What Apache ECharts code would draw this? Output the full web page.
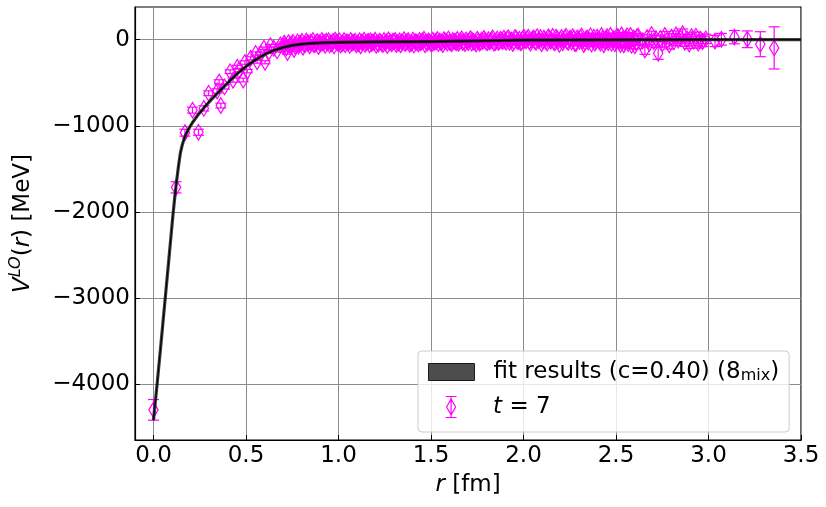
<!DOCTYPE html>
<html>
<head>
<meta charset="utf-8">
<script src="https://cdn.jsdelivr.net/npm/echarts@6/dist/echarts.min.js"></script>
<style>
  html, body { margin: 0; padding: 0; background: #ffffff; }
  #chart { width: 826px; height: 507px; }
</style>
</head>
<body>
<div id="chart"></div>
<script>
// ---- data ----
const xTicks = [0, 0.5, 1, 1.5, 2, 2.5, 3, 3.5];
const yTicks = [-4000, -3000, -2000, -1000, 0];

// lattice points, t = 7 : r [fm], V [MeV], error [MeV]
const r7 = [
  0.000,0.122,0.170,0.211,0.243,0.272,0.298,0.344,0.355,0.364,0.384,0.414,0.430,0.453,0.462,0.485,0.494,0.507,0.525,0.552,0.560,0.579,0.597,0.603,0.624,0.632,0.650,0.668,0.686,
  0.700,0.712,0.724,0.736,0.748,0.760,0.772,0.784,0.796,0.808,
  0.820,0.832,0.844,0.856,0.868,0.880,0.892,0.904,0.916,0.928,
  0.940,0.952,0.964,0.976,0.988,1.000,1.012,1.024,1.036,1.048,
  1.060,1.072,1.084,1.096,1.108,1.120,1.132,1.144,1.156,1.168,
  1.180,1.192,1.204,1.216,1.228,1.240,1.252,1.264,1.276,1.288,
  1.300,1.312,1.324,1.336,1.348,1.360,1.372,1.384,1.396,1.408,
  1.420,1.432,1.444,1.456,1.468,1.480,1.492,1.504,1.516,1.528,
  1.540,1.552,1.564,1.576,1.588,1.600,1.612,1.624,1.636,1.648,
  1.660,1.672,1.684,1.696,1.708,1.720,1.732,1.744,1.756,1.768,
  1.780,1.792,1.804,1.816,1.828,1.840,1.852,1.864,1.876,1.888,
  1.900,1.912,1.924,1.936,1.948,1.960,1.972,1.984,1.996,2.008,
  2.020,2.032,2.044,2.056,2.068,2.080,2.092,2.104,2.116,2.128,
  2.140,2.152,2.164,2.176,2.188,2.200,2.212,2.224,2.236,2.248,
  2.260,2.272,2.284,2.296,2.308,2.320,2.332,2.344,2.356,2.368,
  2.380,2.392,2.404,2.416,2.428,2.440,2.452,2.464,2.476,2.488,
  2.500,2.512,2.524,2.536,2.548,2.560,2.572,2.584,2.596,2.608,
  2.620,2.632,2.644,2.656,2.668,2.680,2.692,2.704,2.716,2.728,
  2.740,2.752,2.764,2.776,2.788,2.800,2.812,2.824,2.836,2.848,
  2.860,2.872,2.884,2.896,2.908,2.920,2.932,2.944,2.956,2.968,
  2.985,3.035,3.070,3.140,3.210,3.280,3.355
];
const v7 = [
  -4300,-1715,-1080,-818,-1075,-798,-622,-595,-490,-765,-548,-372,-470,-320,-352,-468,-265,-365,-216,-160,-255,-160,-100,-262,-140,-70,-100,-130,-62,
  -72,-60,-150,-66,-50,-115,-58,-74,-44,-88,
  -52,-38,-70,-45,-60,-30,-78,-48,-40,-64,
  -35,-58,-46,-72,-28,-50,-62,-40,-55,-33,
  -66,-42,-30,-58,-48,-70,-36,-52,-25,-60,
  -44,-32,-64,-50,-28,-56,-40,-68,-35,-47,
  -22,-55,-38,-60,-30,-45,-18,-52,-40,-63,
  -28,-48,-35,-15,-58,-40,-25,-50,-33,-20,
  -45,-30,-55,-12,-38,-26,-48,-20,-35,-42,
  -10,-32,-45,-22,-5,-38,-28,-50,-15,-30,
  -20,-8,-35,-25,2,-40,-15,-30,5,-22,
  -12,10,-30,-5,-25,15,-18,-35,8,-10,
  12,-22,-5,20,-30,-10,25,-15,0,-40,
  18,-8,-28,30,-15,5,-35,22,-20,10,
  -25,15,-45,8,25,-12,-30,20,-5,-50,
  28,-18,5,-38,15,-25,35,-8,-42,12,
  -20,30,-55,10,-30,45,-10,-65,20,-35,
  40,-25,-15,-120,25,-45,60,-20,10,-158,
  15,-40,50,-10,-60,30,-25,55,-5,20,
  70,-30,10,-50,35,-15,40,-40,5,-20,
  10,-15,5,30,5,-52,-95
];
const e7 = [
  120,65,40,35,35,30,28,25,25,28,25,22,24,22,20,22,20,20,18,18,18,16,15,18,15,14,15,14,14,
  15,12,18,10,14,20,12,16,11,18,
  12,10,16,13,11,14,17,12,10,15,
  11,14,12,16,10,13,15,12,14,11,
  15,12,10,14,13,16,11,12,10,15,
  13,11,15,12,10,14,12,16,11,13,
  10,15,12,14,11,13,10,15,12,16,
  12,14,11,10,16,13,12,15,11,10,
  14,12,16,10,13,11,15,12,13,14,
  11,13,15,12,10,14,13,16,11,12,
  14,12,16,13,11,17,12,15,13,14,
  15,13,17,14,16,12,15,18,13,14,
  16,14,18,15,17,13,16,19,14,20,
  18,15,20,17,16,19,22,18,20,17,
  20,18,24,19,22,21,25,20,23,26,
  24,22,20,28,23,26,25,22,30,24,
  28,26,32,24,30,35,27,38,29,31,
  34,30,36,50,32,40,38,33,36,70,
  38,42,45,36,48,40,44,46,42,45,
  55,48,50,52,45,55,50,58,48,60,
  55,65,68,77,97,145,245
];

// further lattice points of the dense band (t = 7)
const r7b = [
  0.706,0.718,0.730,0.742,0.754,0.766,0.778,0.790,0.802,0.814,
  0.826,0.838,0.850,0.862,0.874,0.886,0.898,0.910,0.922,0.934,
  0.946,0.958,0.970,0.982,0.994,1.006,1.018,1.030,1.042,1.054,
  1.066,1.078,1.090,1.102,1.114,1.126,1.138,1.150,1.162,1.174,
  1.186,1.198,1.210,1.222,1.234,1.246,1.258,1.270,1.282,1.294,
  1.306,1.318,1.330,1.342,1.354,1.366,1.378,1.390,1.402,1.414,
  1.426,1.438,1.450,1.462,1.474,1.486,1.498,1.510,1.522,1.534,
  1.546,1.558,1.570,1.582,1.594,1.606,1.618,1.630,1.642,1.654,
  1.666,1.678,1.690,1.702,1.714,1.726,1.738,1.750,1.762,1.774,
  1.786,1.798,1.810,1.822,1.834,1.846,1.858,1.870,1.882,1.894,
  1.906,1.918,1.930,1.942,1.954,1.966,1.978,1.990,2.002,2.014,
  2.026,2.038,2.050,2.062,2.074,2.086,2.098,2.110,2.122,2.134,
  2.146,2.158,2.170,2.182,2.194,2.206,2.218,2.230,2.242,2.254,
  2.266,2.278,2.290,2.302,2.314,2.326,2.338,2.350,2.362,2.374,
  2.386,2.398,2.410,2.422,2.434,2.446,2.458,2.470,2.482,2.494,
  2.506,2.518,2.530,2.542,2.554,2.566,2.578,2.590,2.602,2.614
];
const v7b = [
  -40,-95,-35,-60,-30,-80,-25,-45,-20,-55,
  -15,-42,-28,-10,-50,-22,-35,-8,-30,-18,
  -12,-38,-20,-5,-32,-15,-44,-10,-25,-36,
  -8,-30,-18,-40,-12,-26,-5,-34,-20,-14,
  -28,-6,-38,-16,-45,-10,-24,-2,-32,-18,
  -8,-36,-14,-26,0,-30,-12,-42,-5,-22,
  -35,-10,-20,5,-28,-14,-40,-6,-24,2,
  -16,-30,0,-22,8,-34,-10,-18,3,-26,
  10,-20,-4,-32,12,-12,-26,6,-38,-2,
  15,-28,0,-14,20,-36,8,-22,-6,18,
  -30,22,-8,-45,25,-18,5,-28,30,-12,
  28,-40,10,-20,35,-5,-48,18,-25,32,
  -15,38,-35,12,-52,25,-8,40,-30,15,
  35,-45,20,-18,42,-55,10,-28,45,-8,
  -40,30,-20,48,-58,15,-32,50,-12,-48,
  42,-30,55,-60,20,-45,50,-25,-70,35
];
const e7b = [
  14,18,12,15,11,17,12,14,10,15,
  11,13,12,10,15,12,13,10,12,11,
  10,13,11,12,14,10,15,11,12,13,
  12,14,10,15,11,13,12,14,10,12,
  13,11,15,12,14,10,13,11,15,12,
  12,14,11,13,10,15,12,14,11,13,
  14,12,13,11,15,12,14,10,13,12,
  13,15,12,14,11,16,12,13,11,14,
  12,14,13,15,12,13,16,12,15,13,
  15,17,14,16,15,18,14,16,15,17,
  17,16,18,15,19,17,16,18,17,19,
  18,20,17,19,21,18,20,19,22,20,
  21,19,23,20,22,24,21,23,20,22,
  23,25,22,24,26,23,25,24,27,25,
  26,28,25,27,30,26,28,27,31,29,
  30,32,29,33,31,34,30,35,36,33
];

// fit curve (c = 0.40)
const fitR = [0.000,0.020,0.040,0.060,0.080,0.095,0.105,0.115,0.125,0.135,0.145,0.155,0.165,0.175,0.190,0.210,0.240,0.280,0.320,0.360,0.400,0.450,0.500,0.550,0.600,0.650,0.700,0.750,0.800,0.850,0.900,1.000,1.200,1.500,1.800,2.000,2.500,3.000,3.500];
const fitV = [-4420,-3990,-3540,-3080,-2620,-2270,-2040,-1830,-1640,-1470,-1320,-1225,-1155,-1100,-1035,-965,-875,-772,-680,-590,-505,-400,-310,-235,-172,-124,-90,-66,-51,-42,-36,-30,-26,-22,-12,-5,-1,0,0];

// ---- build options ----
const FONT = 'DejaVu Sans';
const MAG = '#ff00ff';
const pts = r7.map((r, i) => [r, v7[i], e7[i]]).concat(r7b.map((r, i) => [r, v7b[i], e7b[i]]));
const fitData = fitR.map((r, i) => [r, fitV[i]]);

const chart = echarts.init(document.getElementById('chart'), null, { renderer: 'canvas' });

chart.setOption({
  backgroundColor: '#ffffff',
  animation: false,
  grid: { left: 130, right: 25, top: 7, bottom: 67, show: true, borderColor: '#000', borderWidth: 1.2, backgroundColor: 'transparent' },
  xAxis: {
    type: 'value', min: -0.1, max: 3.5,
    name: '{i|r} [fm]', nameLocation: 'middle', nameGap: 34,
    nameTextStyle: { fontSize: 23, fontFamily: FONT, color: '#000', rich: { i: { fontSize: 23, fontFamily: FONT, fontStyle: 'italic', color: '#000' } } },
    axisLine: { show: true, onZero: false, lineStyle: { color: '#000', width: 1.2 } },
    axisTick: { show: true, inside: true, length: 5, customValues: xTicks, lineStyle: { color: '#000', width: 1 } },
    axisLabel: { customValues: xTicks, formatter: v => v.toFixed(1), fontSize: 23, fontFamily: FONT, color: '#000', margin: 5 },
    splitLine: { show: true, lineStyle: { color: '#8c8c8c', width: 1 } }
  },
  yAxis: {
    type: 'value', min: -4650, max: 380,
    name: '{i|V}{sup|LO}({i|r}) [MeV]', nameLocation: 'middle', nameGap: 97, nameRotate: 90,
    nameTextStyle: { fontSize: 23, fontFamily: FONT, color: '#000',
      rich: {
        i: { fontSize: 23, fontFamily: FONT, fontStyle: 'italic', color: '#000' },
        sup: { fontSize: 16, fontFamily: FONT, fontStyle: 'italic', color: '#000', padding: [0, 0, 14, 0] }
      } },
    axisLine: { show: true, onZero: false, lineStyle: { color: '#000', width: 1.2 } },
    axisTick: { show: true, inside: true, length: 5, customValues: yTicks, lineStyle: { color: '#000', width: 1 } },
    axisLabel: { customValues: yTicks, formatter: v => (v < 0 ? '\u2212' + (-v) : String(v)), fontSize: 23, fontFamily: FONT, color: '#000', margin: 5 },
    splitLine: { show: true, lineStyle: { color: '#8c8c8c', width: 1 } }
  },
  legend: [
    {
      selectedMode: false, orient: 'vertical', left: 418, top: 351,
      padding: [8, 10, 47, 10],
      backgroundColor: 'rgba(255,255,255,0.8)', borderColor: '#cccccc', borderWidth: 1, borderRadius: 4,
      itemWidth: 46, itemHeight: 17,
      data: [{ name: 'fit', icon: 'rect', itemStyle: { color: '#4d4d4d', borderColor: '#1a1a1a', borderWidth: 1 } }],
      formatter: () => '{n|fit results (c=0.40) (8}{s|mix}{n|)}',
      textStyle: { fontSize: 23, fontFamily: FONT, color: '#000', lineHeight: 26, padding: [0, 0, 0, 14],
        rich: { n: { fontSize: 23, fontFamily: FONT, color: '#000' }, s: { fontSize: 16, fontFamily: FONT, color: '#000', padding: [8, 0, 0, 0] } } }
    },
    {
      selectedMode: false, orient: 'vertical', left: 445, top: 394, padding: 0, z: 10,
      itemWidth: 46, itemHeight: 21,
      data: [{ name: 't7', icon: 'path://M0,0 L11,0 M5.5,0 L5.5,21 M0,21 L11,21 M5.5,2.5 L10,10.5 L5.5,18.5 L1,10.5 Z',
        itemStyle: { color: 'rgba(0,0,0,0)', borderColor: MAG, borderWidth: 1.2 } }],
      formatter: () => '{i|t} = 7',
      textStyle: { fontSize: 23, fontFamily: FONT, color: '#000', lineHeight: 26, padding: [0, 0, 0, 14],
        rich: { i: { fontSize: 23, fontFamily: FONT, fontStyle: 'italic', color: '#000' } } }
    }
  ],
  series: [
    {
      name: 't7', type: 'custom', z: 2,
      itemStyle: { color: MAG },
      data: pts,
      encode: { x: 0, y: 1 },
      renderItem: function (params, api) {
        const r = api.value(0), v = api.value(1), e = api.value(2);
        const c = api.coord([r, v]);
        const t = api.coord([r, v + e]);
        const b = api.coord([r, v - e]);
        const hw = 4.7, hh = 7.8, cw = 5.5;
        const st = { stroke: MAG, lineWidth: 1.2, fill: null };
        return {
          type: 'group',
          children: [
            { type: 'line', shape: { x1: c[0], y1: t[1], x2: c[0], y2: b[1] }, style: st },
            { type: 'line', shape: { x1: c[0] - cw, y1: t[1], x2: c[0] + cw, y2: t[1] }, style: st },
            { type: 'line', shape: { x1: c[0] - cw, y1: b[1], x2: c[0] + cw, y2: b[1] }, style: st },
            { type: 'polygon', shape: { points: [[c[0], c[1] - hh], [c[0] + hw, c[1]], [c[0], c[1] + hh], [c[0] - hw, c[1]]] },
              style: { stroke: MAG, lineWidth: 1.2, fill: 'rgba(0,0,0,0)' } }
          ]
        };
      }
    },
    {
      name: 'fit', type: 'line', z: 3, data: fitData, showSymbol: false, symbol: 'none',
      itemStyle: { color: '#4d4d4d' },
      lineStyle: { color: 'rgba(30,30,30,0.85)', width: 3.2, join: 'round' }
    },
    {
      name: 'fitCentre', type: 'line', z: 4, data: fitData, showSymbol: false, symbol: 'none',
      lineStyle: { color: '#000', width: 1.1, join: 'round' }
    }
  ]
});
</script>
</body>
</html>
